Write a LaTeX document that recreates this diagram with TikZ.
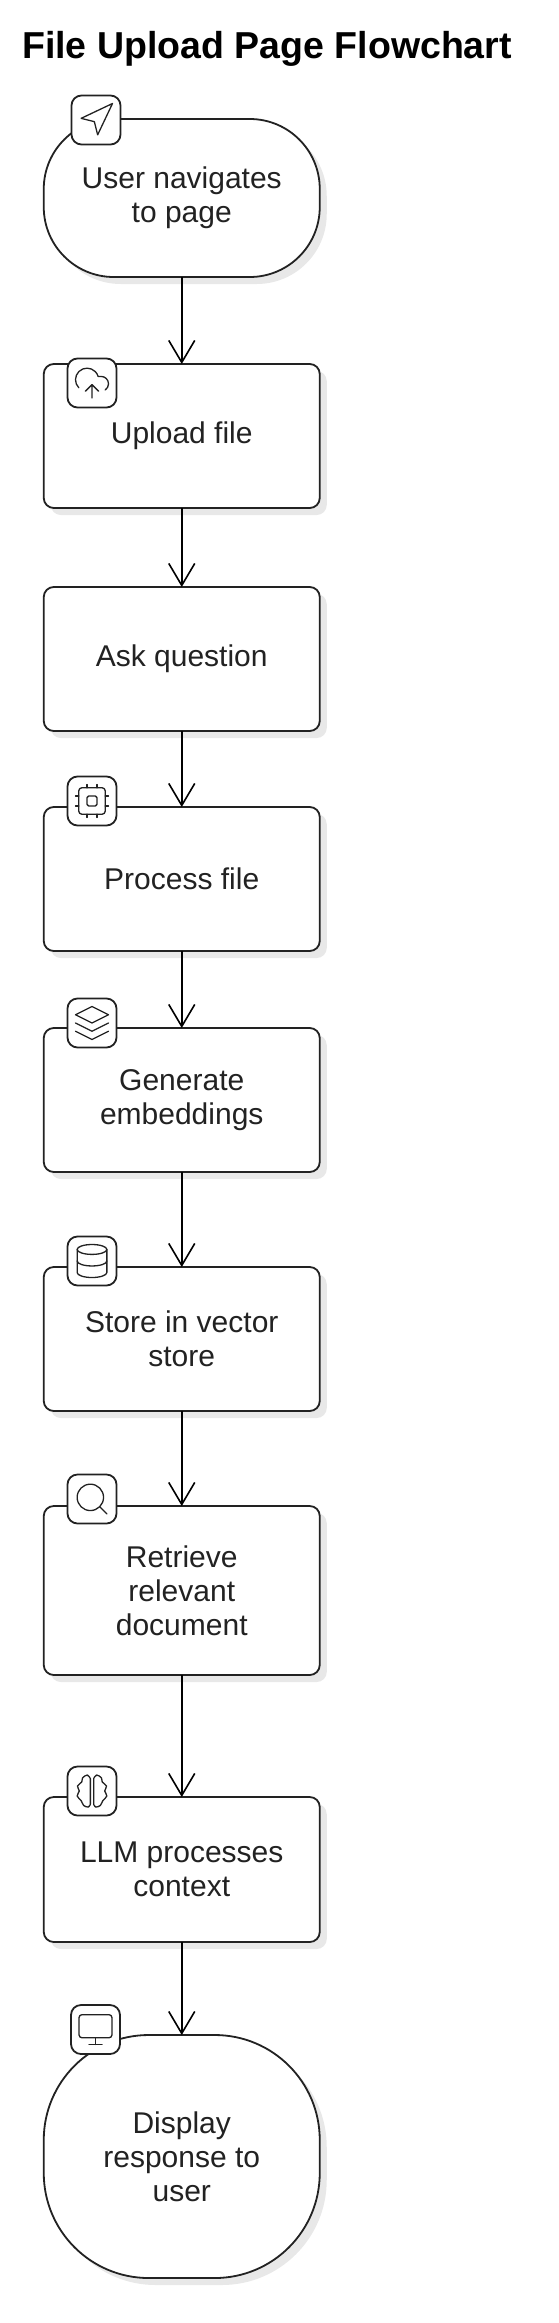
\documentclass[tikz,border=0pt]{standalone}
\usepackage{fontspec}
\setmainfont{Liberation Sans}
\usetikzlibrary{arrows.meta,shadows}

\definecolor{shadowgray}{HTML}{E8E8E8}
\definecolor{inkgray}{HTML}{222222}

\tikzset{
	stepbox/.style={draw=inkgray, line width=1.8pt, fill=white, inner sep=0pt, outer sep=0pt,
		minimum width=276pt, align=center, text=inkgray,
		font=\fontsize{30}{34}\selectfont,
		drop shadow={shadow xshift=7pt, shadow yshift=-7pt, fill=shadowgray, opacity=1}},
	iconbox/.style={draw=inkgray, line width=1.8pt, fill=white, rounded corners=10pt,
		inner sep=0pt, minimum size=49pt},
	flowarrow/.style={draw=black, line width=1.6pt, -{Straight Barb[length=22pt,width=26pt]}},
	iconline/.style={draw=inkgray, line width=1.3pt, line join=round, line cap=round,
		x=1.65pt, y=1.65pt, shift={(-12,-12)}},
	% icons, on a grid of 24 by 24
	navicon/.pic={\draw[iconline] (3,13) -- (22,22) -- (13,3) -- (11,11) -- cycle;},
	cloudicon/.pic={\draw[iconline] (4,9.1) arc[start angle=224.4, end angle=16.6, radius=7]
			-- (17.5,16) arc[start angle=90, end angle=-56.3, radius=4.5];
		\draw[iconline] (12,11) -- (12,3) (8,7) -- (12,11) -- (16,7);},
	chipicon/.pic={\draw[iconline, rounded corners=3pt] (4,4) rectangle (20,20);
		\draw[iconline, rounded corners=1.5pt] (9,9) rectangle (15,15);
		\foreach \p in {9,15} {
			\draw[iconline] (\p,2) -- (\p,4) (\p,20) -- (\p,22) (2,\p) -- (4,\p) (20,\p) -- (22,\p);
		}},
	layersicon/.pic={\draw[iconline] (12,22) -- (22,17) -- (12,12) -- (2,17) -- cycle;
		\draw[iconline] (2,12) -- (12,7) -- (22,12);
		\draw[iconline] (2,7) -- (12,2) -- (22,7);},
	dbicon/.pic={\draw[iconline] (12,19) ellipse [x radius=9, y radius=3];
		\draw[iconline] (3,19) -- (3,5) arc[start angle=180, end angle=360, x radius=9, y radius=3] -- (21,19);
		\draw[iconline] (3,12) arc[start angle=180, end angle=360, x radius=9, y radius=3];},
	searchicon/.pic={\draw[iconline] (11,13) circle (8);
		\draw[iconline] (16.7,7.3) -- (21,3);},
	brainicon/.pic={\foreach \s/\o in {1/13,-1/11} {
			\draw[iconline] plot[smooth, tension=0.6] coordinates {(\o,19.5) ({12+\s*2.8},21.7) ({12+\s*5.7},20) ({12+\s*6.2},17.5) ({12+\s*8.8},15) ({12+\s*7.7},12) ({12+\s*9},9) ({12+\s*6.6},6.2) ({12+\s*5},3.2) ({12+\s*2.2},2.3) (\o,4)} -- (\o,19.5);
		}},
	monitoricon/.pic={\draw[iconline, rounded corners=3pt] (2,7) rectangle (22,21);
		\draw[iconline] (8,3) -- (16,3) (12,7) -- (12,3);}
}

\begin{document}
\begin{tikzpicture}[x=1pt, y=1pt]
	\useasboundingbox (0,0) rectangle (559,-2323);
	\pgfmathsetmacro{\cx}{181.75}

	% Title
	\node[anchor=base west, inner sep=0pt, font=\fontsize{37.5}{40}\selectfont\bfseries] (title) at (22,-59) {File Upload Page Flowchart};

	% Steps, top to bottom
	\node[stepbox, rounded corners=70pt, minimum height=158pt] (user) at (\cx,-198) {User navigates\\to page};
	\node[stepbox, rounded corners=10pt, minimum height=144pt] (upload) at (\cx,-436) {Upload file};
	\node[stepbox, rounded corners=10pt, minimum height=144pt] (ask) at (\cx,-659) {Ask question};
	\node[stepbox, rounded corners=10pt, minimum height=144pt] (process) at (\cx,-879) {Process file};
	\node[stepbox, rounded corners=10pt, minimum height=144pt] (generate) at (\cx,-1100) {Generate\\embeddings};
	\node[stepbox, rounded corners=10pt, minimum height=144pt] (store) at (\cx,-1339) {Store in vector\\store};
	\node[stepbox, rounded corners=10pt, minimum height=169pt] (retrieve) at (\cx,-1590.5) {Retrieve\\relevant\\document};
	\node[stepbox, rounded corners=10pt, minimum height=145pt] (llm) at (\cx,-1869.5) {LLM processes\\context};
	\node[stepbox, rounded corners=105pt, minimum height=243pt] (display) at (\cx,-2156.5) {Display\\response to\\user};

	% Icon boxes
	\node[iconbox] (navbox) at (96,-120) {};
	\node[iconbox] (cloudbox) at (92,-383) {};
	\node[iconbox] (chipbox) at (92,-801) {};
	\node[iconbox] (layersbox) at (92,-1023) {};
	\node[iconbox] (dbbox) at (92,-1261) {};
	\node[iconbox] (searchbox) at (92,-1499) {};
	\node[iconbox] (brainbox) at (92,-1791) {};
	\node[iconbox] (monitorbox) at (95.5,-2029.5) {};

	% Icons
	\pic at (navbox) {navicon};
	\pic at (cloudbox) {cloudicon};
	\pic at (chipbox) {chipicon};
	\pic at (layersbox) {layersicon};
	\pic at (dbbox) {dbicon};
	\pic at (searchbox) {searchicon};
	\pic at (brainbox) {brainicon};
	\pic at (monitorbox) {monitoricon};

	% Draw the arrows
	\draw[flowarrow] (user) -- (upload);
	\draw[flowarrow] (upload) -- (ask);
	\draw[flowarrow] (ask) -- (process);
	\draw[flowarrow] (process) -- (generate);
	\draw[flowarrow] (generate) -- (store);
	\draw[flowarrow] (store) -- (retrieve);
	\draw[flowarrow] (retrieve) -- (llm);
	\draw[flowarrow] (llm) -- (display);
\end{tikzpicture}
\end{document}
